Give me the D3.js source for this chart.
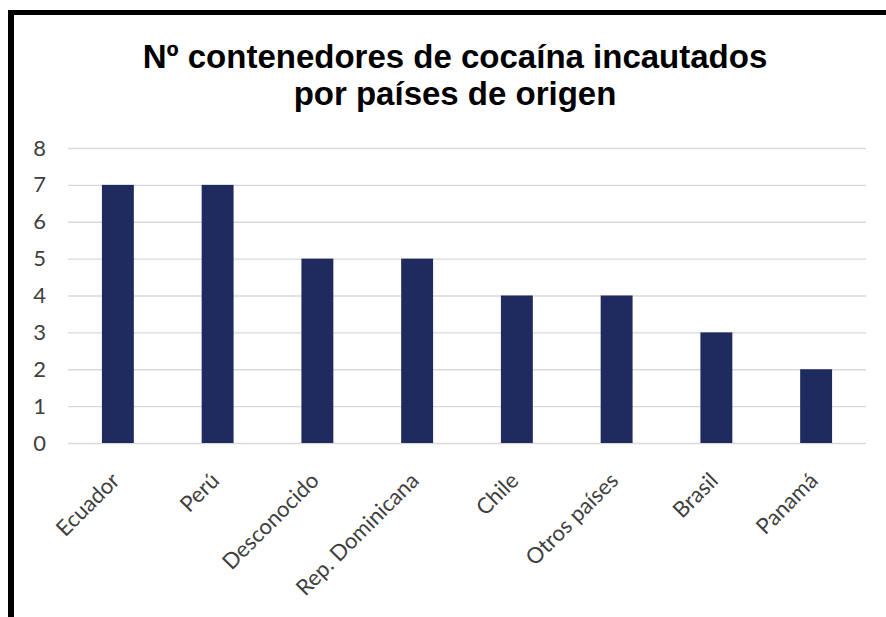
<!DOCTYPE html>
<html>
<head>
<meta charset="utf-8">
<script src="https://cdn.jsdelivr.net/npm/d3@7"></script>
<style>
  html, body { margin: 0; padding: 0; background: #fff; }
  svg { display: block; }
</style>
</head>
<body>
<svg id="chart" width="886" height="617"></svg>
<script>
// Containers seized, by country of origin
const countries = ["Ecuador", "Perú", "Desconocido", "Rep. Dominicana", "Chile", "Otros países", "Brasil", "Panamá"];
const containers = [7, 7, 5, 5, 4, 4, 3, 2];
const yTicks = [0, 1, 2, 3, 4, 5, 6, 7, 8];
const titleLines = ["Nº contenedores de cocaína incautados", "por países de origen"];

const svg = d3.select("#chart");
const W = 886, H = 617;
const labelFont = "Lato, 'Open Sans', sans-serif";

svg.append("rect").attr("width", W).attr("height", H).attr("fill", "#fff");

// Frame: top and left black edges
svg.append("line").attr("x1", 8).attr("x2", W).attr("y1", 12.5).attr("y2", 12.5)
  .attr("stroke", "#000").attr("stroke-width", 5);
svg.append("line").attr("x1", 11).attr("x2", 11).attr("y1", 10).attr("y2", H)
  .attr("stroke", "#000").attr("stroke-width", 6);

const plot = { left: 68, right: 866, top: 148, bottom: 443 };

const x = d3.scaleBand().domain(countries).range([plot.left, plot.right]).paddingInner(0.68).paddingOuter(0.34);
const y = d3.scaleLinear().domain([0, 8]).range([plot.bottom, plot.top]);

// Gridlines
svg.append("g")
  .selectAll("line")
  .data(yTicks)
  .join("line")
  .attr("x1", plot.left).attr("x2", plot.right)
  .attr("y1", d => y(d) + 0.5).attr("y2", d => y(d) + 0.5)
  .attr("stroke", "#d9d9d9").attr("stroke-width", 1.3);

// Y axis labels
const yAxis = d3.axisLeft(y).tickValues(yTicks).tickSize(0).tickPadding(0).tickFormat(d3.format("d"));
svg.append("g")
  .attr("transform", `translate(46,0)`)
  .call(yAxis)
  .call(g => g.select(".domain").remove())
  .selectAll("text")
  .attr("font-family", labelFont)
  .attr("font-size", 22)
  .attr("fill", "#404040");

// Bars
svg.append("g")
  .selectAll("rect")
  .data(countries)
  .join("rect")
  .attr("x", d => x(d))
  .attr("width", x.bandwidth())
  .attr("y", (d, i) => y(containers[i]))
  .attr("height", (d, i) => y(0) - y(containers[i]))
  .attr("fill", "#1f2a5e");

// X axis labels, rotated
const xAxis = d3.axisBottom(x).tickSize(0).tickPadding(0);
svg.append("g")
  .attr("transform", `translate(0,${plot.bottom})`)
  .call(xAxis)
  .call(g => g.select(".domain").remove())
  .selectAll("text")
  .attr("font-family", labelFont)
  .attr("font-size", 22)
  .attr("fill", "#404040")
  .attr("text-anchor", "end")
  .attr("dy", 0)
  .attr("transform", "translate(3,39) rotate(-45)");

// Title
svg.append("g")
  .selectAll("text")
  .data(titleLines)
  .join("text")
  .attr("x", 455)
  .attr("y", (d, i) => 68 + i * 37)
  .attr("text-anchor", "middle")
  .attr("font-family", "'Liberation Sans', Arial, sans-serif")
  .attr("font-weight", "bold")
  .attr("font-size", 33)
  .attr("fill", "#000")
  .text(d => d);
</script>
</body>
</html>
